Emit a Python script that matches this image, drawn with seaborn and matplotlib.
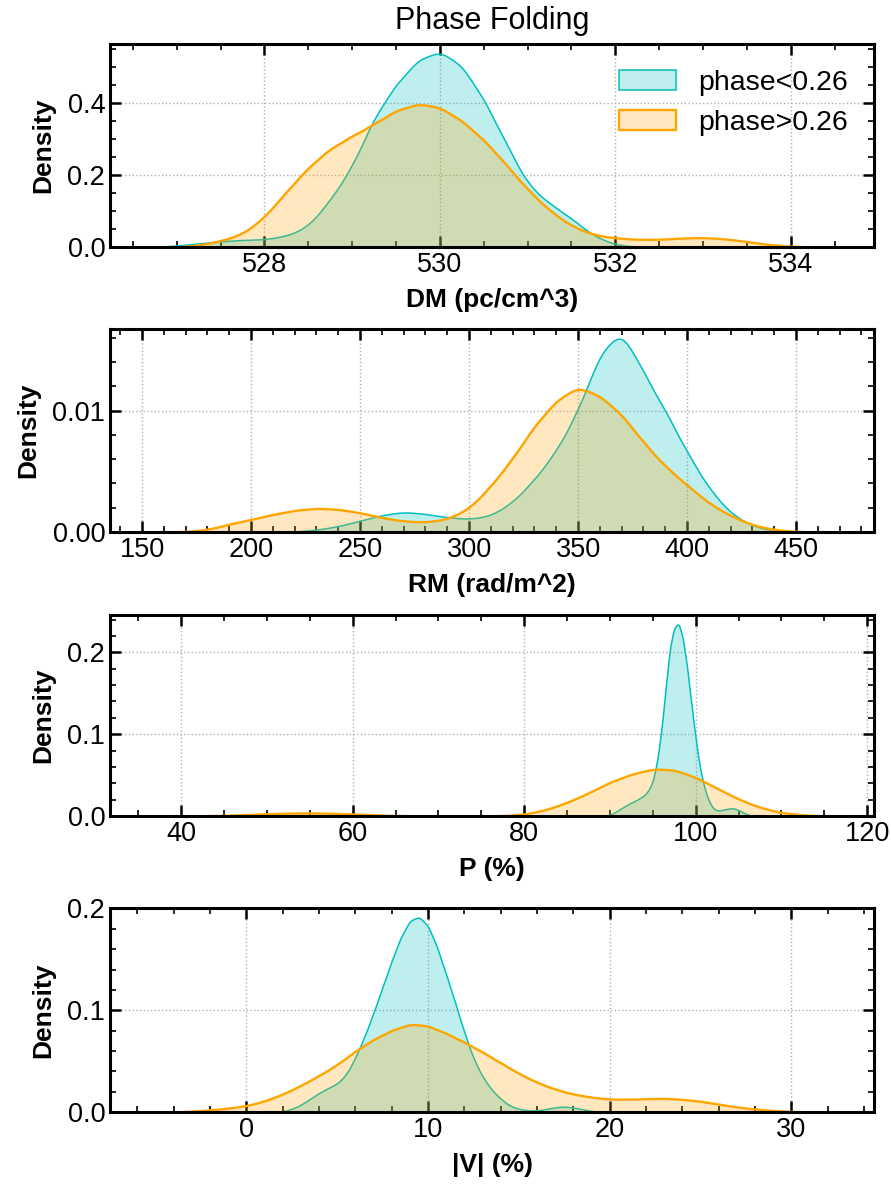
import numpy as np
import seaborn as sns
import matplotlib
matplotlib.use("Agg")
import matplotlib.pyplot as plt
from matplotlib.ticker import MultipleLocator, AutoMinorLocator

# KDE: sample positions and the density read there,
# used as weights for a weighted gaussian kde (one list pair per phase group)
dm_x_lo = [527.0, 527.25, 527.5, 527.75, 528.0, 528.25, 528.5, 528.75, 529.0, 529.25, 529.5,
           529.75, 530.0, 530.25, 530.5, 530.75, 531.0, 531.25, 531.5, 531.75, 532.0]
dm_d_lo = [0.004, 0.01, 0.016, 0.02, 0.021, 0.03, 0.055, 0.13, 0.22, 0.36, 0.45,
           0.52, 0.545, 0.505, 0.41, 0.29, 0.17, 0.12, 0.08, 0.03, 0.006]
dm_x_hi = [527.25, 527.5, 527.75, 528.0, 528.25, 528.5, 528.75, 529.0, 529.25, 529.5, 529.75,
           530.0, 530.25, 530.5, 530.75, 531.0, 531.25, 531.5, 531.75, 532.0, 532.25, 532.5,
           532.75, 533.0, 533.25, 533.5, 533.75, 534.0]
dm_d_hi = [0.005, 0.018, 0.036, 0.085, 0.16, 0.23, 0.285, 0.32, 0.355, 0.395, 0.415,
           0.405, 0.365, 0.31, 0.24, 0.165, 0.105, 0.06, 0.035, 0.026, 0.022, 0.022,
           0.026, 0.028, 0.024, 0.016, 0.007, 0.002]

rm_x_lo = [220, 230, 240, 250, 260, 270, 280, 290, 300, 310, 320, 330, 340, 350, 360, 370,
           380, 390, 400, 410, 420, 430, 440]
rm_d_lo = [0.00003, 0.0002, 0.0005, 0.001, 0.0015, 0.0018, 0.0016, 0.0013, 0.00112, 0.0014,
           0.0026, 0.0046, 0.0071, 0.0106, 0.0158, 0.0180, 0.0140, 0.0107, 0.0070, 0.0038,
           0.0016, 0.0005, 0.0001]
rm_x_hi = [170, 180, 190, 200, 210, 220, 230, 240, 250, 260, 270, 280, 290, 300, 310, 320,
           330, 340, 350, 360, 370, 380, 390, 400, 410, 420, 430, 440, 450]
rm_d_hi = [0.00005, 0.0002, 0.0007, 0.0011, 0.00155, 0.0019, 0.0021, 0.002, 0.0017, 0.00125,
           0.00095, 0.00085, 0.0011, 0.002, 0.004, 0.0064, 0.0093, 0.0115, 0.0128, 0.0119,
           0.0103, 0.0078, 0.0057, 0.0041, 0.0025, 0.0014, 0.0006, 0.0002, 0.00005]

p_x_lo = [90.0, 90.5, 91.0, 91.5, 92.0, 92.5, 93.0, 93.5, 94.0, 94.5, 95.0, 95.5, 96.0, 96.5,
          97.0, 97.5, 98.0, 98.5, 99.0, 99.5, 100.0, 100.5, 101.0, 101.5, 102.0, 102.5,
          103.0, 103.5, 104.0, 104.5, 105.0, 105.5, 106.0]
p_d_lo = [0.001, 0.004, 0.007, 0.01, 0.013, 0.016, 0.018, 0.021, 0.024, 0.03, 0.04, 0.063,
          0.1, 0.15, 0.2, 0.222, 0.228, 0.21, 0.175, 0.13, 0.09, 0.055, 0.033, 0.018, 0.009,
          0.006, 0.007, 0.008, 0.009, 0.009, 0.007, 0.004, 0.002]
p_x_hi = [42.5, 45.0, 47.5, 50.0, 52.5, 55.0, 57.5, 60.0, 62.5, 65.0, 67.5, 77.5, 80.0, 82.5,
          85.0, 87.5, 90.0, 92.5, 95.0, 97.5, 100.0, 102.5, 105.0, 107.5, 110.0, 112.5, 115.0]
p_d_hi = [0.0003, 0.0008, 0.0017, 0.0028, 0.0037, 0.004, 0.0035, 0.0026, 0.0015, 0.0006,
          0.0002, 0.0004, 0.002, 0.0075, 0.017, 0.029, 0.043, 0.053, 0.06, 0.059, 0.049,
          0.035, 0.021, 0.0105, 0.004, 0.0012, 0.0002]

v_x_lo = [2.0, 2.5, 3.0, 3.5, 4.0, 4.5, 5.0, 5.5, 6.0, 6.5, 7.0, 7.5, 8.0, 8.5, 9.0, 9.5,
          10.0, 10.5, 11.0, 11.5, 12.0, 12.5, 13.0, 13.5, 14.0, 14.5, 15.0, 15.5, 16.0,
          16.5, 17.0, 17.5, 18.0, 18.5, 19.0]
v_d_lo = [0.0005, 0.003, 0.007, 0.013, 0.019, 0.024, 0.028, 0.037, 0.054, 0.075, 0.099,
          0.125, 0.151, 0.175, 0.192, 0.196, 0.187, 0.165, 0.137, 0.109, 0.079, 0.053,
          0.035, 0.022, 0.013, 0.006, 0.003, 0.0015, 0.0015, 0.003, 0.0048, 0.0056,
          0.0045, 0.0028, 0.001]
v_x_hi = [-3, -2, -1, 0, 1, 2, 3, 4, 5, 6, 7, 8, 9, 10, 11, 12, 13, 14, 15, 16, 17, 18, 19,
          20, 21, 22, 23, 24, 25, 26, 27, 28, 29, 30]
v_d_hi = [0.0008, 0.0022, 0.0038, 0.0063, 0.011, 0.018, 0.027, 0.037, 0.048, 0.062, 0.074,
          0.083, 0.09, 0.088, 0.08, 0.071, 0.061, 0.05, 0.039, 0.03, 0.023, 0.018, 0.015,
          0.013, 0.013, 0.0135, 0.014, 0.013, 0.011, 0.008, 0.005, 0.003, 0.0015, 0.0005]

labels = ["phase<0.26", "phase>0.26"]
colors = ["c", "orange"]
widths = [1.1, 1.7]

# kernel width per panel (data units), x range, tick steps
panels = [
    dict(lo=(dm_x_lo, dm_d_lo), hi=(dm_x_hi, dm_d_hi), bw=(0.15, 0.15), xlabel="DM (pc/cm^3)",
         xlim=(526.24, 534.95), xstep=2, ystep=0.2),
    dict(lo=(rm_x_lo, rm_d_lo), hi=(rm_x_hi, rm_d_hi), bw=(6, 6), xlabel="RM (rad/m^2)",
         xlim=(135.3, 485.8), xstep=50, ystep=0.01),
    dict(lo=(p_x_lo, p_d_lo), hi=(p_x_hi, p_d_hi), bw=(0.3, 1.5), xlabel="P (%)",
         xlim=(31.7, 120.8), xstep=20, ystep=0.1),
    dict(lo=(v_x_lo, v_d_lo), hi=(v_x_hi, v_d_hi), bw=(0.3, 0.6), xlabel="|V| (%)",
         xlim=(-7.5, 34.55), xstep=10, ystep=0.1),
]

sns.set_style("ticks")
plt.rcParams.update({
    "font.family": ["Liberation Sans", "DejaVu Sans"],
    "text.color": "black", "axes.labelcolor": "black",
    "xtick.color": "black", "ytick.color": "black",
    "axes.edgecolor": "black",
    "axes.linewidth": 2.2,
    "xtick.direction": "in", "ytick.direction": "in",
    "xtick.top": True, "ytick.right": True,
    "xtick.major.size": 8, "ytick.major.size": 8,
    "xtick.minor.size": 4, "ytick.minor.size": 4,
    "xtick.major.width": 1.8, "ytick.major.width": 1.8,
    "xtick.minor.width": 1.2, "ytick.minor.width": 1.2,
    "xtick.minor.visible": True, "ytick.minor.visible": True,
    "xtick.labelsize": 19.5, "ytick.labelsize": 19.5,
    "axes.labelsize": 19, "axes.labelweight": "bold",
})


def kde(ax, vals, dens, bw, color, lw, label):
    v = np.asarray(vals, float)
    w = np.asarray(dens, float)
    w = w / w.sum()
    mu = np.sum(w * v)
    sd = np.sqrt(np.sum(w * (v - mu) ** 2) / (1 - np.sum(w ** 2)))
    # scalar bw_method is a factor on the weighted std -> kernel width = bw
    sns.kdeplot(x=v, weights=w, bw_method=bw / sd, fill=True, color=color,
                alpha=0.25, linewidth=lw, label=label, ax=ax)


fig = plt.figure(figsize=(8.91, 11.86), dpi=100)
bottoms = [0.7917, 0.5514, 0.312, 0.0624]
heights = [0.1712, 0.1712, 0.1695, 0.172]

for i, p in enumerate(panels):
    ax = fig.add_axes([0.1235, bottoms[i], 0.8575, heights[i]])
    kde(ax, *p["lo"], p["bw"][0], colors[0], widths[0], labels[0])
    kde(ax, *p["hi"], p["bw"][1], colors[1], widths[1], labels[1])
    ax.set_xlim(*p["xlim"])
    ax.xaxis.set_major_locator(MultipleLocator(p["xstep"]))
    ax.yaxis.set_major_locator(MultipleLocator(p["ystep"]))
    ax.xaxis.set_minor_locator(AutoMinorLocator())
    ax.yaxis.set_minor_locator(AutoMinorLocator())
    ax.grid(True, which="major", linestyle=":", color="#b0b0b0", linewidth=1.0)
    ax.set_xlabel(p["xlabel"], fontweight="bold", labelpad=7)
    ax.set_ylabel("Density", fontweight="bold", labelpad=9)
    if i == 0:
        ax.set_title("Phase Folding", fontsize=22, pad=11)
        ax.legend(loc="upper right", frameon=False, fontsize=20.5)

fig.savefig("out.png", dpi=100)
